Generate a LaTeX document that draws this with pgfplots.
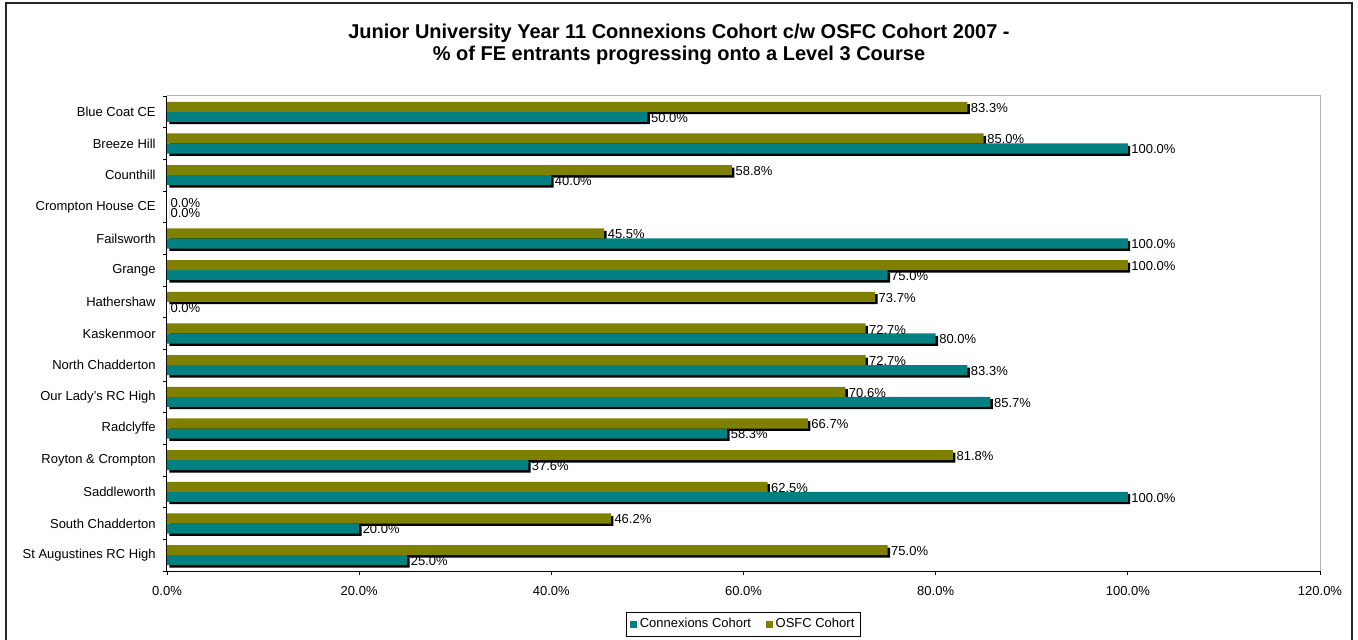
\documentclass[border=0pt]{standalone}
\usepackage{fontspec}
\setmainfont{Liberation Sans}
\usepackage{pgfplots}
\usepackage{pgfplotstable}
\pgfplotsset{compat=1.18}
\definecolor{conn}{HTML}{008080}
\definecolor{osfc}{HTML}{808000}

% school position (14 = top row), Connexions Cohort %, OSFC Cohort %
\pgfplotstableread{
y conn osfc
14 50.0 83.3
13 100 85.0
12 40.0 58.8
11 0 0
10 100 45.5
9 75.0 100
8 0 73.7
7 80.0 72.7
6 83.3 72.7
5 85.7 70.6
4 58.3 66.7
3 37.6 81.8
2 100 62.5
1 20.0 46.2
0 25.0 75.0
}\schools

\newcommand{\lbl}{\fontsize{9.75}{11.5}\selectfont}
\newcommand{\pct}[1]{\pgfmathprintnumber[fixed,fixed zerofill,precision=1,assume math mode=true]{#1}\%}

\begin{document}
\begin{tikzpicture}
% page = 1358 x 639 px, 1 px = 0.75pt, origin at the axis' lower left corner
\useasboundingbox (-125.25pt,-51pt) rectangle (893.25pt,428.25pt);
\draw[line width=1.2pt, black!85] (-120.75pt,-60pt) rectangle (888.75pt,426pt);

\node[font=\fontsize{15}{16.5}\selectfont\bfseries, align=center] at (384pt,395.25pt)
  {Junior University Year 11 Connexions Cohort c/w OSFC Cohort 2007 -\\
   \% of FE entrants progressing onto a Level 3 Course};

\begin{axis}[
  at={(0,0)}, anchor=south west,
  scale only axis,
  width=864.75pt, height=356.25pt,
  xmin=0, xmax=120,
  ymin=-0.5, ymax=14.5,
  axis lines=left,
  axis line style={-, black, line width=0.75pt},
  tick align=outside,
  major tick length=3pt,
  tick style={black, line width=0.6pt},
  xtick={0,20,...,120},
  xticklabel={\pct{\tick}},
  xticklabel style={font=\lbl, yshift=-5pt},
  ytick={-0.5,0.5,...,14.5},
  yticklabels={},
  extra y ticks={0,...,14},
  extra y tick labels={St Augustines RC High, South Chadderton, Saddleworth,
    Royton \& Crompton, Radclyffe, Our Lady's RC High, North Chadderton,
    Kaskenmoor, Hathershaw, Grange, Failsworth, Crompton House CE,
    Counthill, Breeze Hill, Blue Coat CE},
  extra y tick style={major tick length=0pt, yticklabel style={font=\lbl, xshift=-5pt}},
  bar width=0.316,
  clip=false,
  legend columns=2,
  legend style={at={(0.5,-0.112)}, anchor=center, draw=black, line width=0.6pt,
    font=\lbl, inner sep=2.5pt, /tikz/every even column/.append style={column sep=9pt}},
  legend image code/.code={\fill[#1] (0pt,-2.7pt) rectangle (5.4pt,2.7pt);},
  nodes near coords style={font=\lbl, anchor=west, inner sep=0.5pt, xshift=2pt},
]
% drop shadows of the bars
\addplot[xbar, bar shift=-0.158, forget plot, fill=black, draw=none, xshift=1.8pt, yshift=-1.8pt]
  table[x=conn, y=y] {\schools};
\addplot[xbar, bar shift=0.158, forget plot, fill=black, draw=none, xshift=1.8pt, yshift=-1.8pt]
  table[x=osfc, y=y] {\schools};
% bars
\addplot[xbar, bar shift=-0.158, fill=conn, draw=none, point meta=x,
  nodes near coords={\pct{\pgfplotspointmeta}},
  every node near coord/.append style={yshift=-4.5pt}]
  table[x=conn, y=y] {\schools};
\addplot[xbar, bar shift=0.158, fill=osfc, draw=none, point meta=x,
  nodes near coords={\pct{\pgfplotspointmeta}},
  every node near coord/.append style={yshift=3pt}]
  table[x=osfc, y=y] {\schools};
\legend{Connexions Cohort, OSFC Cohort}
\draw[black!30, line width=0.75pt] (rel axis cs:0,1) -- (rel axis cs:1,1) -- (rel axis cs:1,0);
\end{axis}
\end{tikzpicture}
\end{document}
